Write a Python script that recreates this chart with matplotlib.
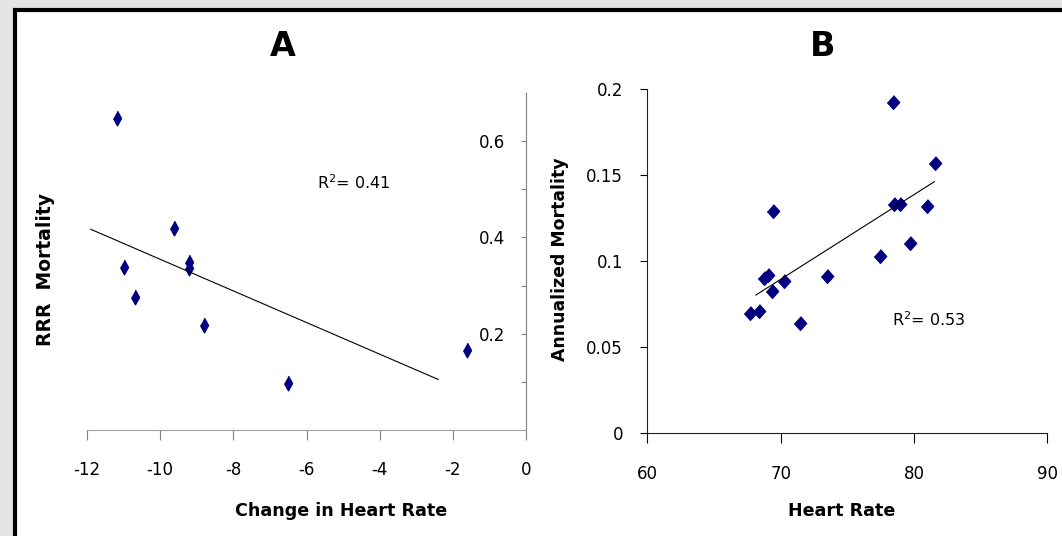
import matplotlib
matplotlib.use("Agg")
import matplotlib.pyplot as plt
from matplotlib.patches import Rectangle
import numpy as np

# ---------------- data ----------------
a_x = [-11.19, -9.61, -10.99, -10.70, -9.20, -9.20, -8.80, -6.51, -1.61]
a_y = [0.649, 0.419, 0.338, 0.276, 0.350, 0.336, 0.218, 0.098, 0.166]
a_trend_x = [-11.9, -2.4]
a_trend_y = [0.417, 0.105]
a_r2 = "0.41"

b_x = [78.41, 81.60, 78.53, 78.96, 80.96, 69.45, 79.71, 77.46, 73.46,
       69.05, 68.75, 70.28, 69.33, 67.70, 68.38, 71.45]
b_y = [0.1928, 0.157, 0.1331, 0.1331, 0.1322, 0.1292, 0.1105, 0.1031, 0.0915,
       0.092, 0.0901, 0.0885, 0.0827, 0.0698, 0.0713, 0.0640]
b_trend_x = [68.15, 81.53]
b_trend_y = [0.0804, 0.1463]
b_r2 = "0.53"

a_xticks = [-12, -10, -8, -6, -4, -2, 0]
a_yticks_major = [0.2, 0.4, 0.6]
a_yticks_minor = [0.1, 0.3, 0.5]
b_xticks = [60, 70, 80, 90]
b_yticks = [0, 0.05, 0.1, 0.15, 0.2]
b_yticklabels = ["0", "0.05", "0.1", "0.15", "0.2"]

# ---------------- figure ----------------
W, H = 1062, 536
fig = plt.figure(figsize=(W / 100, H / 100), dpi=100)
fig.patch.set_facecolor("#e4e4e4")
frame = Rectangle((15 / W, -0.05), 1.1, 1 - 10 / H + 0.05, transform=fig.transFigure,
                  facecolor="white", edgecolor="black", linewidth=3.0, zorder=-10)
fig.patches.append(frame)

navy = "#000080"
mk_a = [(0, 1), (0.55, 0), (0, -1), (-0.55, 0)]
mk_b = [(0, 1), (0.9, 0), (0, -1), (-0.9, 0)]

def fx(px):
    return px / W

def fy(py):
    return 1 - py / H

# ---- Panel A ----
axA = fig.add_axes([fx(87), fy(430), (526 - 87) / W, (430 - 93) / H])
axA.patch.set_alpha(0)
axA.plot(a_x, a_y, linestyle="none", marker=mk_a, markersize=10.5,
         color=navy, markeredgecolor=navy)
axA.plot(a_trend_x, a_trend_y, color="black", linewidth=0.8)
axA.set_xlim(-12, 0)
axA.set_ylim(0, 0.7)
for s in ["top", "right"]:
    axA.spines[s].set_visible(False)
axA.spines["left"].set_position(("data", 0))
gA = "#808080"
axA.spines["left"].set_color(gA)
axA.spines["bottom"].set_color("#a0a0a0")
axA.set_xticks(a_xticks)
axA.set_xticklabels([str(t) for t in a_xticks])
axA.set_yticks(a_yticks_major)
axA.set_yticklabels(["0.2", "0.4", "0.6"])
axA.set_yticks(a_yticks_minor, minor=True)
axA.tick_params(axis="x", direction="out", length=7, width=0.8, color=gA,
                pad=15, labelsize=12)
axA.tick_params(axis="y", which="both", direction="out", length=3.3, width=0.8,
                color=gA, pad=12, labelsize=12)
axA.tick_params(axis="y", which="minor", labelleft=False)
axA.text(-5.72, 0.514, r"R$^{2}$= " + a_r2, fontsize=11.5, ha="left", va="center")

# ---- Panel B ----
axB = fig.add_axes([fx(647.3), fy(433.3), 400 / W, (433.3 - 89.3) / H])
axB.patch.set_alpha(0)
axB.plot(b_x, b_y, linestyle="none", marker=mk_b, markersize=9.8,
         color=navy, markeredgecolor=navy)
axB.plot(b_trend_x, b_trend_y, color="black", linewidth=0.8)
axB.set_xlim(60, 90)
axB.set_ylim(0, 0.2)
for s in ["top", "right"]:
    axB.spines[s].set_visible(False)
axB.spines["left"].set_color("#222222")
axB.spines["bottom"].set_color("#222222")
axB.set_xticks(b_xticks)
axB.set_xticklabels([str(t) for t in b_xticks])
axB.set_yticks(b_yticks)
axB.set_yticklabels(b_yticklabels)
axB.tick_params(axis="x", direction="out", length=7, width=0.8, pad=16, labelsize=12)
axB.tick_params(axis="y", direction="out", length=5, width=0.8, pad=12.5, labelsize=12)
axB.text(78.33, 0.0659, r"R$^{2}$= " + b_r2, fontsize=11.5, ha="left", va="center")

# ---- titles and labels ----
fig.text(fx(283), fy(47), "A", fontsize=24, fontweight="bold", ha="center", va="center")
fig.text(fx(823), fy(47), "B", fontsize=24, fontweight="bold", ha="center", va="center")
fig.text(fx(45.7), fy(270), "RRR  Mortality", fontsize=13.5, fontweight="bold",
         rotation=90, ha="center", va="center")
fig.text(fx(560), fy(259), "Annualized Mortality", fontsize=12.4, fontweight="bold",
         rotation=90, ha="center", va="center")
fig.text(fx(341), fy(511), "Change in Heart Rate", fontsize=12.6, fontweight="bold",
         ha="center", va="center")
fig.text(fx(841.5), fy(511), "Heart Rate", fontsize=12.6, fontweight="bold",
         ha="center", va="center")

fig.savefig("out.png", dpi=100, facecolor=fig.get_facecolor())
